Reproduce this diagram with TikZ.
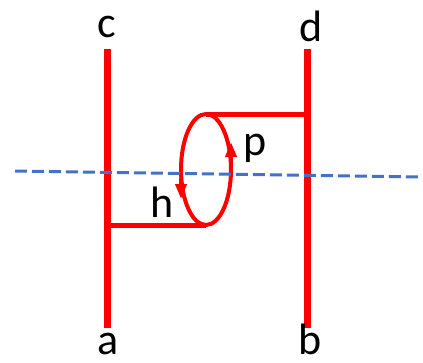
\documentclass[tikz,border=0pt]{standalone}
\usepackage{fontspec}
\setmainfont{Carlito}
\usetikzlibrary{arrows.meta}
\definecolor{lred}{RGB}{255,0,0}
\definecolor{lblue}{RGB}{68,114,196}
\tikzset{
  rail/.style={draw=lred, line width=7pt},
  rung/.style={draw=lred, line width=5pt},
  loop/.style={draw=lred, line width=4pt},
  dir/.style={draw=lred, line width=4pt, -{Triangle[length=15pt,width=11pt]}},
  cut/.style={draw=lblue, line width=3pt, dash pattern=on 12pt off 5pt},
  lbl/.style={font=\fontsize{44}{44}\selectfont, text=black, inner sep=0pt, anchor=base}
}
\begin{document}
\begin{tikzpicture}[x=1pt,y=-1pt]
\useasboundingbox (0,0) rectangle (423,362);
% coordinates
\coordinate (Lt) at (107,49);
\coordinate (Lb) at (107,328);
\coordinate (Rt) at (307,49);
\coordinate (Rb) at (307,328);
\coordinate (Lm) at (107,225);
\coordinate (Rm) at (307,114);
\coordinate (Et) at (206,114);
\coordinate (Eb) at (206,225);
\coordinate (E) at (206,169.5);
\coordinate (D1) at (15,171);
\coordinate (D2) at (421,177);
% rails
\draw[rail] (Lt) -- (Lb);
\draw[rail] (Rt) -- (Rb);
% rungs
\draw[rung] (Et) -- (Rm);
\draw[rung] (Lm) -- (Eb);
% loop
\draw[loop] (E) ellipse [x radius=25, y radius=55.5];
\coordinate (A1s) at (231,162);
\coordinate (A1e) at (231,142);
\coordinate (A2s) at (181,178);
\coordinate (A2e) at (181,199);
\draw[dir] (A1s) -- (A1e);
\draw[dir] (A2s) -- (A2e);
% cut line
\draw[cut] (D1) -- (D2);
% labels
\node[lbl] (c) at (107,37) {c};
\node[lbl] (d) at (311,41) {d};
\node[lbl] (a) at (108,354) {a};
\node[lbl] (b) at (310,354) {b};
\node[lbl] (h) at (162,217) {h};
\node[lbl] (p) at (255,155) {p};
\end{tikzpicture}
\end{document}
